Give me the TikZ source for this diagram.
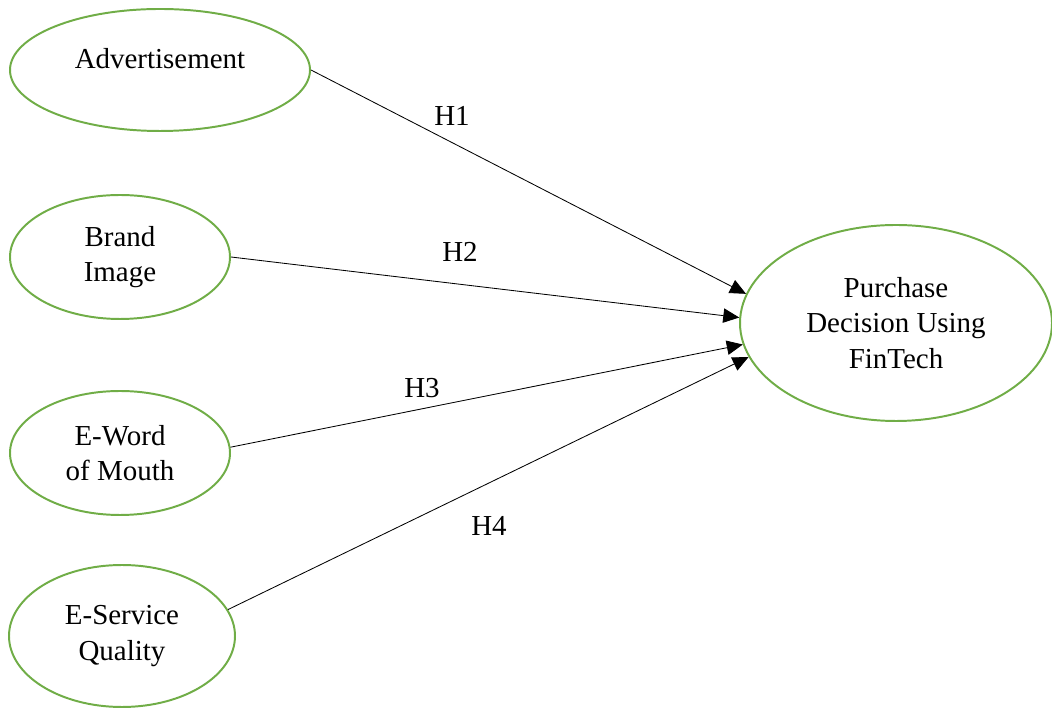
\documentclass[tikz,border=0pt]{standalone}
\usepackage{fontspec}
\setmainfont{Liberation Serif}
\usetikzlibrary{arrows.meta,positioning,shapes.geometric}
\definecolor{OvalGreen}{HTML}{70AD47}

\begin{document}
\begin{tikzpicture}[
oval/.style={draw=OvalGreen,line width=1.4pt,ellipse,inner sep=0pt,align=center,font=\fontsize{20.6}{25}\selectfont},
arr/.style={-{Triangle[length=4mm,width=3.6mm]},line width=0.6pt,draw=black},
hyp/.style={font=\fontsize{20.6}{25}\selectfont}
]
\useasboundingbox (0,0) rectangle (26.3,17.7);
\node[oval,minimum width=7.5cm,minimum height=3.05cm,text depth=0.6cm] (adv) at (4.0,15.95) {Advertisement};
\node[oval,minimum width=5.5cm,minimum height=3.1cm] (brand) at (3.0,11.275) {Brand\\Image};
\node[oval,minimum width=5.5cm,minimum height=3.1cm] (eword) at (3.0,6.375) {E-Word\\of Mouth};
\node[oval,minimum width=5.65cm,minimum height=3.55cm] (eserv) at (3.05,1.8) {E-Service\\Quality};
\node[oval,minimum width=7.8cm,minimum height=4.9cm] (buy) at (22.4,9.625) {Purchase\\Decision Using\\FinTech};
\node[hyp] (h1) at (11.3,14.8) {H1};
\node[hyp] (h2) at (11.5,11.4) {H2};
\node[hyp] (h3) at (10.55,8.0) {H3};
\node[hyp] (h4) at (12.225,4.55) {H4};
\draw[arr] (adv.east) -- (buy.169.4);
\draw[arr] (brand.east) -- (buy.178);
\draw[arr] (eword.3) -- (buy.188);
\draw[arr] (eserv.14) -- (buy.193);
\end{tikzpicture}
\end{document}
